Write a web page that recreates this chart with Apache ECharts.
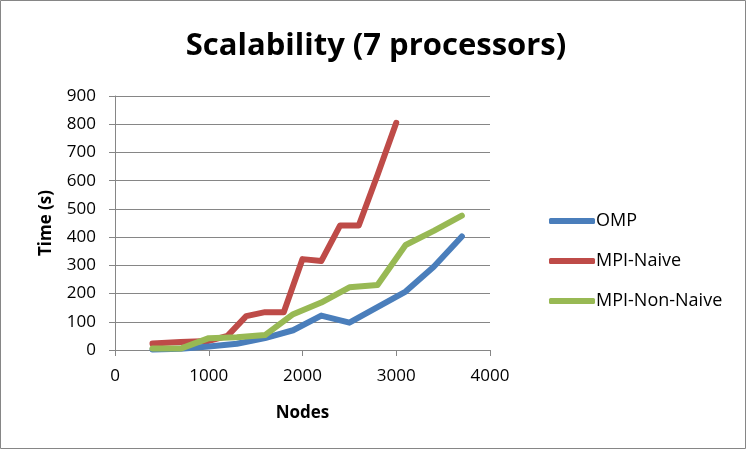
<!DOCTYPE html>
<html><head><meta charset="utf-8">
<script src="https://cdn.jsdelivr.net/npm/echarts@6/dist/echarts.min.js"></script>
<style>html,body{margin:0;padding:0;background:#fff}#c{width:752px;height:452px}</style>
</head><body><div id="c"></div>
<script>
const titleText = 'Scalability (7 processors)';
const xName = 'Nodes';
const yName = 'Time (s)';
const seriesNames = ['OMP', 'MPI-Naive', 'MPI-Non-Naive'];
const ompX = [400, 700, 1000, 1300, 1600, 1900, 2200, 2500, 2800, 3100, 3400, 3700];
const ompY = [2, 4, 12, 22, 42, 70, 122, 97, 152, 207, 295, 402];
const naiveX = [400, 700, 1000, 1200, 1400, 1600, 1800, 2000, 2200, 2400, 2600, 2800, 3000];
const naiveY = [23, 28, 32, 50, 120, 134, 134, 322, 315, 441, 441, 620, 805];
const nonNaiveX = [400, 700, 1000, 1300, 1600, 1900, 2200, 2500, 2800, 3100, 3400, 3700];
const nonNaiveY = [5, 5, 42, 45, 53, 127, 168, 222, 230, 372, 422, 476];
const colors = ['#4A7EBB', '#BE4B48', '#98B954'];

const pairs = (xs, ys) => xs.map((x, i) => [x, ys[i]]);
const chart = echarts.init(document.getElementById('c'));
const font = 'Open Sans, sans-serif';
chart.setOption({
  animation: false,
  backgroundColor: '#fff',
  title: { text: titleText, left: 'center', top: 26,
    textStyle: { fontFamily: font, fontSize: 31, fontWeight: 'bold', color: '#000' } },
  legend: {
    orient: 'vertical', left: 544, top: 207, itemGap: 22,
    itemWidth: 46, itemHeight: 6, icon: 'roundRect',
    textStyle: { fontFamily: font, fontSize: 18, color: '#000', padding: [0, 0, 0, -4] },
    data: seriesNames
  },
  grid: { left: 115, right: 262, top: 96, bottom: 102 },
  xAxis: {
    type: 'value', min: 0, max: 4000, interval: 1000,
    name: xName, nameLocation: 'middle', nameGap: 55,
    nameTextStyle: { fontFamily: font, fontSize: 17, fontWeight: 'bold', color: '#000' },
    axisLine: { lineStyle: { color: '#868686', width: 1 } },
    axisTick: { show: true, inside: false, length: 6, lineStyle: { color: '#868686' } },
    axisLabel: { fontFamily: font, fontSize: 17, color: '#000', margin: 18,
      formatter: v => String(v) },
    splitLine: { show: false }
  },
  yAxis: {
    type: 'value', min: 0, max: 900, interval: 100,
    name: yName, nameLocation: 'middle', nameGap: 60, nameRotate: 90,
    nameTextStyle: { fontFamily: font, fontSize: 17, fontWeight: 'bold', color: '#000' },
    axisLine: { show: true, lineStyle: { color: '#868686', width: 1 } },
    axisTick: { show: true, inside: false, length: 6, lineStyle: { color: '#868686' } },
    axisLabel: { fontFamily: font, fontSize: 17, color: '#000', margin: 19 },
    splitLine: { lineStyle: { color: '#868686', width: 1 } }
  },
  graphic: [{ type: 'rect', shape: { x: 0.5, y: 0.5, width: 745, height: 448 },
    style: { fill: 'none', stroke: '#868686', lineWidth: 1 }, silent: true }],
  series: [
    { name: seriesNames[0], type: 'line', data: pairs(ompX, ompY), z: 3 },
    { name: seriesNames[1], type: 'line', data: pairs(naiveX, naiveY), z: 2 },
    { name: seriesNames[2], type: 'line', data: pairs(nonNaiveX, nonNaiveY), z: 4 }
  ].map((s, i) => Object.assign(s, {
    showSymbol: false, symbol: 'none', color: colors[i],
    lineStyle: { width: 6, color: colors[i], cap: 'round', join: 'round' }
  }))
});
</script></body></html>
